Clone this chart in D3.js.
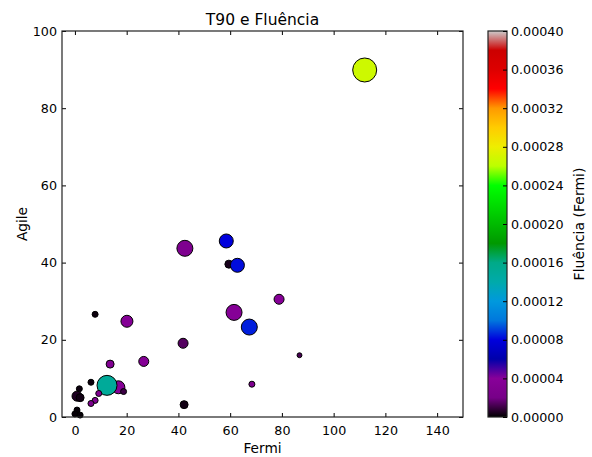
<!DOCTYPE html>
<html><head><meta charset="utf-8">
<script src="https://cdn.jsdelivr.net/npm/d3@7"></script>
<style>body{margin:0;background:#fff}svg{display:block}text{font-family:"DejaVu Sans",sans-serif;fill:#000}</style>
</head><body><svg id="c" width="592" height="457"></svg>
<script>
// ---- data ----
const fermi = [112, 42.5, 58.5, 59.5, 62.8, 78.9, 20.1, 7.8, 61.5, 67.4, 41.8, 86.8, 26.6, 13.6, 68.4, 42.2, 16.8, 12.4, 18.8, 9.2, 7.8, 6.2, 6.2, 1.7, 0.8, 2.0, 0.8, 0.0, 2.0];
const agile = [89.9, 43.7, 45.6, 39.6, 39.3, 30.5, 24.8, 26.6, 27.1, 23.3, 19.1, 16.0, 14.4, 13.7, 8.5, 3.2, 7.7, 8.2, 6.6, 6.1, 4.3, 3.5, 9.0, 7.3, 5.4, 5.0, 1.8, 0.8, 0.5];
const fluencia = [0.000267, 0.000028, 0.000080, 0.000004, 0.000082, 0.000038, 0.000035, 0.000002, 0.000036, 0.000085, 0.000014, 0.000012, 0.000035, 0.000032, 0.000028, 0.000003, 0.000036, 0.000150, 0.000010, 0.000030, 0.000030, 0.000025, 0.000002, 0.000002, 0.000005, 0.000003, 0.000001, 0.000001, 0.000001];
const t90 = [144, 64, 49, 16, 49, 25, 36, 9, 64, 64, 25, 6, 25, 16, 9, 16, 42, 100, 9, 9, 9, 9, 9, 9, 25, 16, 9, 9, 9];
const xTicks = [0, 20, 40, 60, 80, 100, 120, 140];
const yTicks = [0, 20, 40, 60, 80, 100];
const cTicks = [0, 0.00004, 0.00008, 0.00012, 0.00016, 0.0002, 0.00024, 0.00028, 0.00032, 0.00036, 0.0004];
const title = "T90 e Fluência", xLabel = "Fermi", yLabel = "Agile", cLabel = "Fluência (Fermi)";

// nipy_spectral colormap segments
const R=[0,.4667,.5333,0,0,0,0,0,0,0,0,0,0,.7333,.9333,1,1,1,.8667,.8,.8];
const G=[0,0,0,0,0,.4667,.6,.6667,.6667,.6,.7333,.8667,1,1,.9333,.8,.6,0,0,0,.8];
const B=[0,.5333,.6,.6667,.8667,.8667,.8667,.6667,.5333,0,0,0,0,0,0,0,0,0,0,0,.8];
function cmap(t){t=Math.max(0,Math.min(1,t));const p=t*20,i=Math.min(19,Math.floor(p)),f=p-i;
 const c=a=>Math.round(255*(a[i]+(a[i+1]-a[i])*f));return `rgb(${c(R)},${c(G)},${c(B)})`;}

const svg=d3.select("#c");
const L=62,Rt=463,T=31,Bm=417;
const x=d3.scaleLinear().domain([-5,150]).range([L,Rt]);
const y=d3.scaleLinear().domain([0,100]).range([Bm,T]);
const cs=d3.scaleLinear().domain([0,0.0004]).range([0,1]);
const rs=d3.scaleSqrt().domain([0,144]).range([0,12]);
const FS=12.7;

// axes (classic inward ticks on all sides)
const tl=4;
svg.append("g").attr("transform",`translate(0,${Bm})`).call(d3.axisBottom(x).tickValues(xTicks).tickSize(-tl).tickPadding(9).tickFormat(d3.format("d")));
svg.append("g").attr("transform",`translate(0,${T})`).call(d3.axisTop(x).tickValues(xTicks).tickSize(-tl).tickFormat(""));
svg.append("g").attr("transform",`translate(${L},0)`).call(d3.axisLeft(y).tickValues(yTicks).tickSize(-tl).tickPadding(5).tickFormat(d3.format("d")));
svg.append("g").attr("transform",`translate(${Rt},0)`).call(d3.axisRight(y).tickValues(yTicks).tickSize(-tl).tickFormat(""));
svg.selectAll(".domain").remove();
svg.selectAll(".tick line").attr("stroke","#000");
svg.selectAll(".tick text").attr("font-size",FS).attr("font-family","DejaVu Sans");

// points
const idx=d3.range(fermi.length);
svg.append("g").selectAll("circle").data(idx).join("circle")
 .attr("cx",i=>x(fermi[i])).attr("cy",i=>y(agile[i])).attr("r",i=>rs(t90[i]))
 .attr("fill",i=>cmap(cs(fluencia[i]))).attr("stroke","#000").attr("stroke-width",1);

// frame
svg.append("rect").attr("x",L).attr("y",T).attr("width",Rt-L).attr("height",Bm-T).attr("fill","none").attr("stroke","#222").attr("stroke-width",1.2);

// labels
svg.append("text").attr("x",(L+Rt)/2).attr("y",25).attr("text-anchor","middle").attr("font-size",15.5).text(title);
svg.append("text").attr("x",(L+Rt)/2).attr("y",453).attr("text-anchor","middle").attr("font-size",13.7).text(xLabel);
svg.append("text").attr("transform",`translate(27,${(T+Bm)/2}) rotate(-90)`).attr("text-anchor","middle").attr("font-size",13.7).text(yLabel);

// colorbar
const cx0=488,cx1=507;
const defs=svg.append("defs");
const gr=defs.append("linearGradient").attr("id","cg").attr("x1",0).attr("y1",1).attr("x2",0).attr("y2",0);
d3.range(0,1.0001,0.0125).forEach(t=>gr.append("stop").attr("offset",t).attr("stop-color",cmap(t)));
svg.append("rect").attr("x",cx0).attr("y",T).attr("width",cx1-cx0).attr("height",Bm-T).attr("fill","url(#cg)").attr("stroke","#222").attr("stroke-width",1.2);
const cy=d3.scaleLinear().domain([0,0.0004]).range([Bm,T]);
svg.append("g").attr("transform",`translate(${cx1},0)`).call(d3.axisRight(cy).tickValues(cTicks).tickSize(-tl).tickPadding(4).tickFormat(d3.format(".5f")))
 .call(g=>{g.select(".domain").remove();g.selectAll("line").attr("stroke","#000");g.selectAll("text").attr("font-size",FS).attr("font-family","DejaVu Sans");});
svg.append("text").attr("transform",`translate(584,${(T+Bm)/2}) rotate(-90)`).attr("text-anchor","middle").attr("font-size",14).text(cLabel);
</script></body></html>
